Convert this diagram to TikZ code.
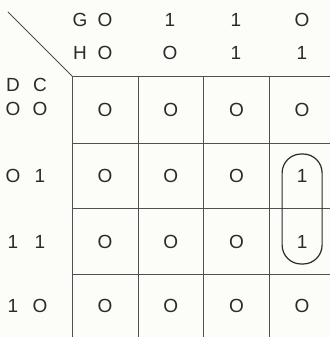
\documentclass[tikz,border=0pt]{standalone}
\usepackage{fontspec}
\setmainfont{Liberation Sans}
\usetikzlibrary{calc}
\definecolor{kmink}{HTML}{2A2A2A}
\definecolor{kmline}{HTML}{505050}
\definecolor{kmpaper}{HTML}{FCFCF8}

\begin{document}
\begin{tikzpicture}[x=1pt, y=-1pt,
  bit/.style={font=\fontsize{19}{19}\selectfont, text=kmink, inner sep=0pt},
  gridln/.style={kmline, line width=0.9pt},
  loopln/.style={kmink, line width=1.2pt, rounded corners=19pt},
]

%% ---- page ----
\fill[kmpaper] (0,0) rectangle (330,337);
\useasboundingbox (0,0) rectangle (330,337);

%% ---- corner diagonal ----
\coordinate (diagtop) at (8,12);
\coordinate (corner) at (72,76);
\draw[gridln] (diagtop) -- (corner);

%% ---- map grid ----
\foreach \y in {76,143,208,274}
  \draw[gridln] (72,\y) -- (330,\y);
\foreach \x in {72,138,203,269}
  \draw[gridln] (\x,76) -- (\x,337);

%% ---- column heads: G H ----
\node[bit] (gname) at (80,20) {G};
\node[bit] (hname) at (80,53) {H};
\foreach \g/\h/\x [count=\i] in {O/O/105, 1/O/170, 1/1/236, O/1/302} {
  \node[bit] (g\i) at (\x,20) {\g};
  \node[bit] (h\i) at (\x,53) {\h};
}

%% ---- row heads: D C ----
\node[bit] (dname) at (13,85) {D};
\node[bit] (cname) at (40,85) {C};
\foreach \d/\c/\y [count=\j] in {O/O/109, O/1/176, 1/1/242, 1/O/306} {
  \node[bit] (d\j) at (13,\y) {\d};
  \node[bit] (c\j) at (40,\y) {\c};
}

%% ---- cell entries ----
\foreach \row/\y [count=\r] in {{O,O,O,O}/110, {O,O,O,1}/176,
                                {O,O,O,1}/242, {O,O,O,O}/306} {
  \foreach \v [count=\k] in \row {
    \pgfmathsetmacro{\cx}{105+65.7*(\k-1)}
    \node[bit] (m\r\k) at (\cx,\y) {\v};
  }
}

%% ---- loop round the two ones ----
\draw[loopln] ($(m24)+(-20,-22)$) rectangle ($(m34)+(20,22)$);

\end{tikzpicture}
\end{document}
